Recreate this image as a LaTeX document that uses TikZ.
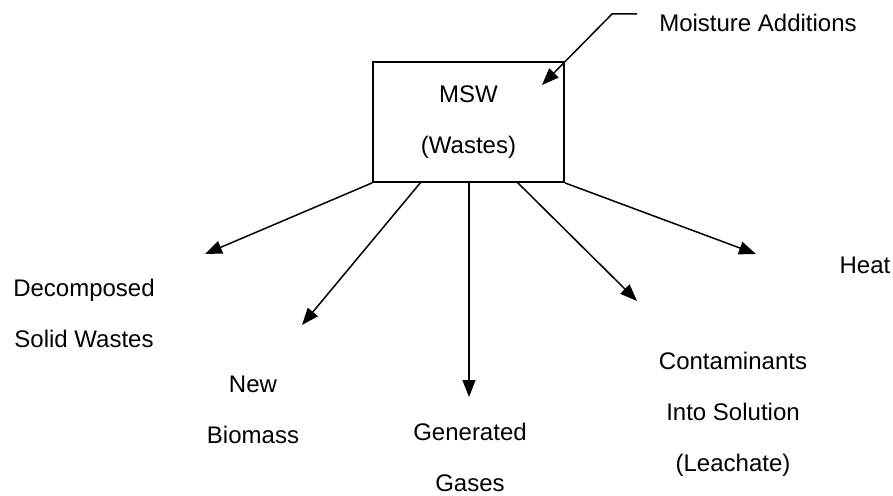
\documentclass[tikz,border=0pt]{standalone}
\usepackage{fontspec}
\setmainfont{Liberation Sans}
\usetikzlibrary{arrows.meta}

\begin{document}
\begin{tikzpicture}[x=1pt,y=-1pt,
  lbl/.style={inner sep=0pt,align=center,font=\fontsize{24}{51}\selectfont},
  flow/.style={line width=1.5pt,-{Triangle[length=17pt,width=13pt]}}]
\useasboundingbox (0,0) rectangle (893,495);
\node[draw,line width=1.8pt,minimum width=191pt,minimum height=120pt,lbl] (msw) at (468.5,122) {MSW\\(Wastes)};
\node[lbl] (moisture) at (758,23) {Moisture Additions};
\node[lbl] (decomposed) at (84,313) {Decomposed\\Solid Wastes};
\node[lbl] (biomass) at (253,410) {New\\Biomass};
\node[lbl] (gases) at (470,457) {Generated\\Gases};
\node[lbl] (leachate) at (733,414) {Contaminants\\Into Solution\\(Leachate)};
\node[lbl] (heat) at (865,265) {Heat};
\coordinate (m1) at (637,14);
\coordinate (m2) at (612,14);
\coordinate (mtip) at (542,85);
\coordinate (b2) at (421,182);
\coordinate (b3) at (469,182);
\coordinate (b4) at (517,182);
\coordinate (t1) at (205,254);
\coordinate (t2) at (302,325);
\coordinate (t3) at (469,397);
\coordinate (t4) at (637,301);
\coordinate (t5) at (756,254);
\draw[flow] (m1) -- (m2) -- (mtip);
\draw[flow] (msw.south west) -- (t1);
\draw[flow] (b2) -- (t2);
\draw[flow] (b3) -- (t3);
\draw[flow] (b4) -- (t4);
\draw[flow] (msw.south east) -- (t5);
\end{tikzpicture}
\end{document}
